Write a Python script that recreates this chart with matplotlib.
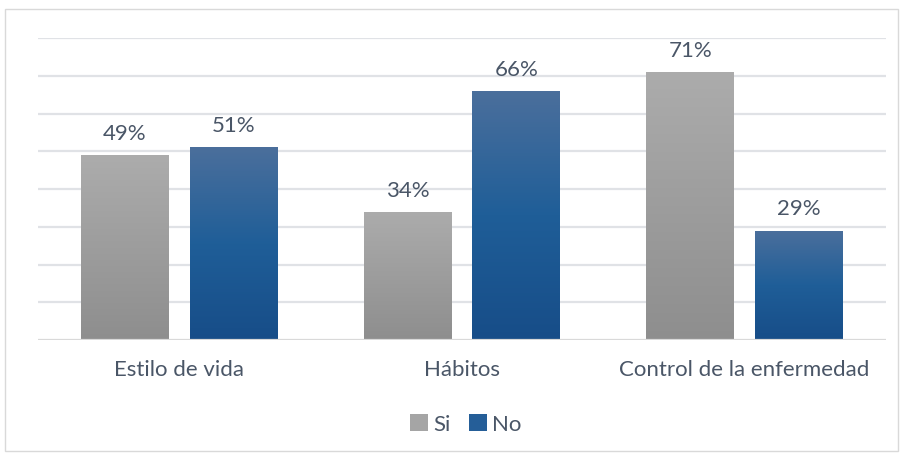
import matplotlib
matplotlib.use("Agg")
import matplotlib.pyplot as plt
import numpy as np
from matplotlib.colors import LinearSegmentedColormap
from matplotlib.patches import Rectangle, Patch

categories = ["Estilo de vida", "Hábitos", "Control de la enfermedad"]
series_names = ["Si", "No"]
si_values = [49, 34, 71]
no_values = [51, 66, 29]

plt.rcParams['font.family'] = ['Lato', 'DejaVu Sans']
text_color = '#4a5667'
fs = 16

fig = plt.figure(figsize=(9.04, 4.56), dpi=100)
W, H = 904, 456
# outer border
fig.patches.append(Rectangle((5/W, 1 - 452/H), 893/W, 442/H, transform=fig.transFigure,
                             fill=False, edgecolor='#d9d9d9', linewidth=1.0))
ax = fig.add_axes([38/W, 1 - 341/H, (886-38)/W, (341-39)/H])
ax.set_xlim(-0.5, 2.5)
ax.set_ylim(0, 80)
for s in ax.spines.values():
    s.set_visible(False)
ax.set_xticks([])
ax.set_yticks([])
for yv in range(10, 90, 10):
    ax.axhline(yv, color='#e0e2e6', linewidth=1.6, zorder=0)
ax.axhline(0, color='#d9d9d9', linewidth=1.6, zorder=3)

gray_cmap = LinearSegmentedColormap.from_list('g', ['#8e8e8e', '#acacac'])
blue_cmap = LinearSegmentedColormap.from_list('b', ['#174d88', '#1f5e98', '#4b6f9c'])
grad = np.linspace(0, 1, 256).reshape(-1, 1)

bw = 0.311
off = 0.192
x = np.arange(len(categories))
for vals, cmap, sign in [(si_values, gray_cmap, -1), (no_values, blue_cmap, 1)]:
    bars = ax.bar(x + sign * off, vals, width=bw, color='none', zorder=2)
    for b, v in zip(bars, vals):
        x0 = b.get_x()
        im = ax.imshow(grad, cmap=cmap, origin='lower', aspect='auto',
                       extent=(x0, x0 + bw, 0, v), zorder=2)
        im.set_clip_path(b)
        ax.text(b.get_x() + bw / 2, v + 3.2, f"{v}%", ha='center', va='bottom',
                fontsize=fs, color=text_color)
ax.set_xlim(-0.5, 2.5)
ax.set_ylim(0, 80)

for xi, c in zip(x, categories):
    ax.text(xi, -5.0, c, ha='center', va='top', fontsize=fs, color=text_color)

handles = [Patch(facecolor='#a5a5a5'), Patch(facecolor='#255e98')]
fig.legend(handles, series_names, loc='center', bbox_to_anchor=(466/W, 1 - 425/H),
           ncol=2, frameon=False, fontsize=fs, labelcolor=text_color,
           handlelength=0.8, handleheight=0.8, handletextpad=0.25, columnspacing=0.8)

fig.savefig('out.png', dpi=100)
